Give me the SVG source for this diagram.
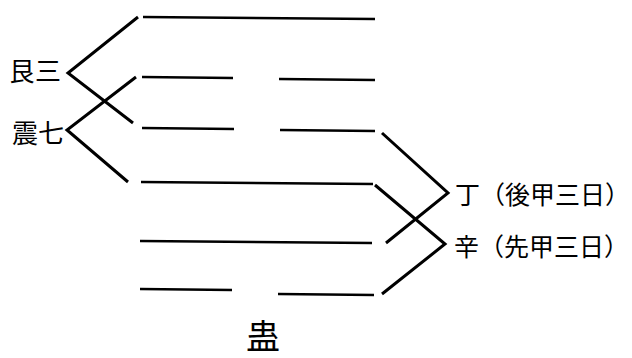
<svg xmlns="http://www.w3.org/2000/svg" width="632" height="358" viewBox="0 0 632 358">
  <style>
    .yao { stroke: #000; stroke-width: 2.6; stroke-linecap: butt; fill: none; }
    .conn { stroke: #000; stroke-width: 3; stroke-linecap: butt; stroke-linejoin: miter; fill: none; }
    .lbl { font-family: "Noto Sans CJK JP", "Noto Sans CJK SC", sans-serif; font-size: 26px; fill: #000; }
    .lblr { font-family: "Noto Sans CJK JP", "Noto Sans CJK SC", sans-serif; font-size: 25px; fill: #000; }
    .title { font-family: "Noto Sans CJK JP", "Noto Sans CJK SC", sans-serif; font-size: 34px; fill: #000; }
  </style>
  <rect width="632" height="358" fill="#fff"/>
  <g id="line1"><line class="yao" x1="143" y1="17" x2="375" y2="19"/></g>
  <g id="line2"><line class="yao" x1="142" y1="77" x2="233" y2="78"/><line class="yao" x1="279" y1="79" x2="375" y2="80"/></g>
  <g id="line3"><line class="yao" x1="142" y1="128" x2="234" y2="129"/><line class="yao" x1="280" y1="130" x2="375" y2="131"/></g>
  <g id="line4"><line class="yao" x1="141" y1="182" x2="373" y2="184"/></g>
  <g id="line5"><line class="yao" x1="140" y1="241" x2="372" y2="243"/></g>
  <g id="line6"><line class="yao" x1="140" y1="289" x2="232" y2="290"/><line class="yao" x1="278" y1="294" x2="374" y2="295"/></g>
  <g id="gen"><text class="lbl" x="9" y="81">艮三</text></g>
  <g id="zhen"><text class="lbl" x="12" y="143">震七</text></g>
  <g id="ding"><text class="lblr" x="455" y="204">丁（後甲三日）</text></g>
  <g id="xin"><text class="lblr" x="454" y="256">辛（先甲三日）</text></g>
  <g id="gu"><text class="title" x="263" y="349" text-anchor="middle">蛊</text></g>
  <g id="connectors">
    <polyline class="conn" points="138,17 68,73 133,123"/>
    <polyline class="conn" points="136,77 67,130 128,182"/>
    <polyline class="conn" points="382,133 448,193 386,243"/>
    <polyline class="conn" points="375,185 445,244 382,294"/>
  </g>
</svg>
